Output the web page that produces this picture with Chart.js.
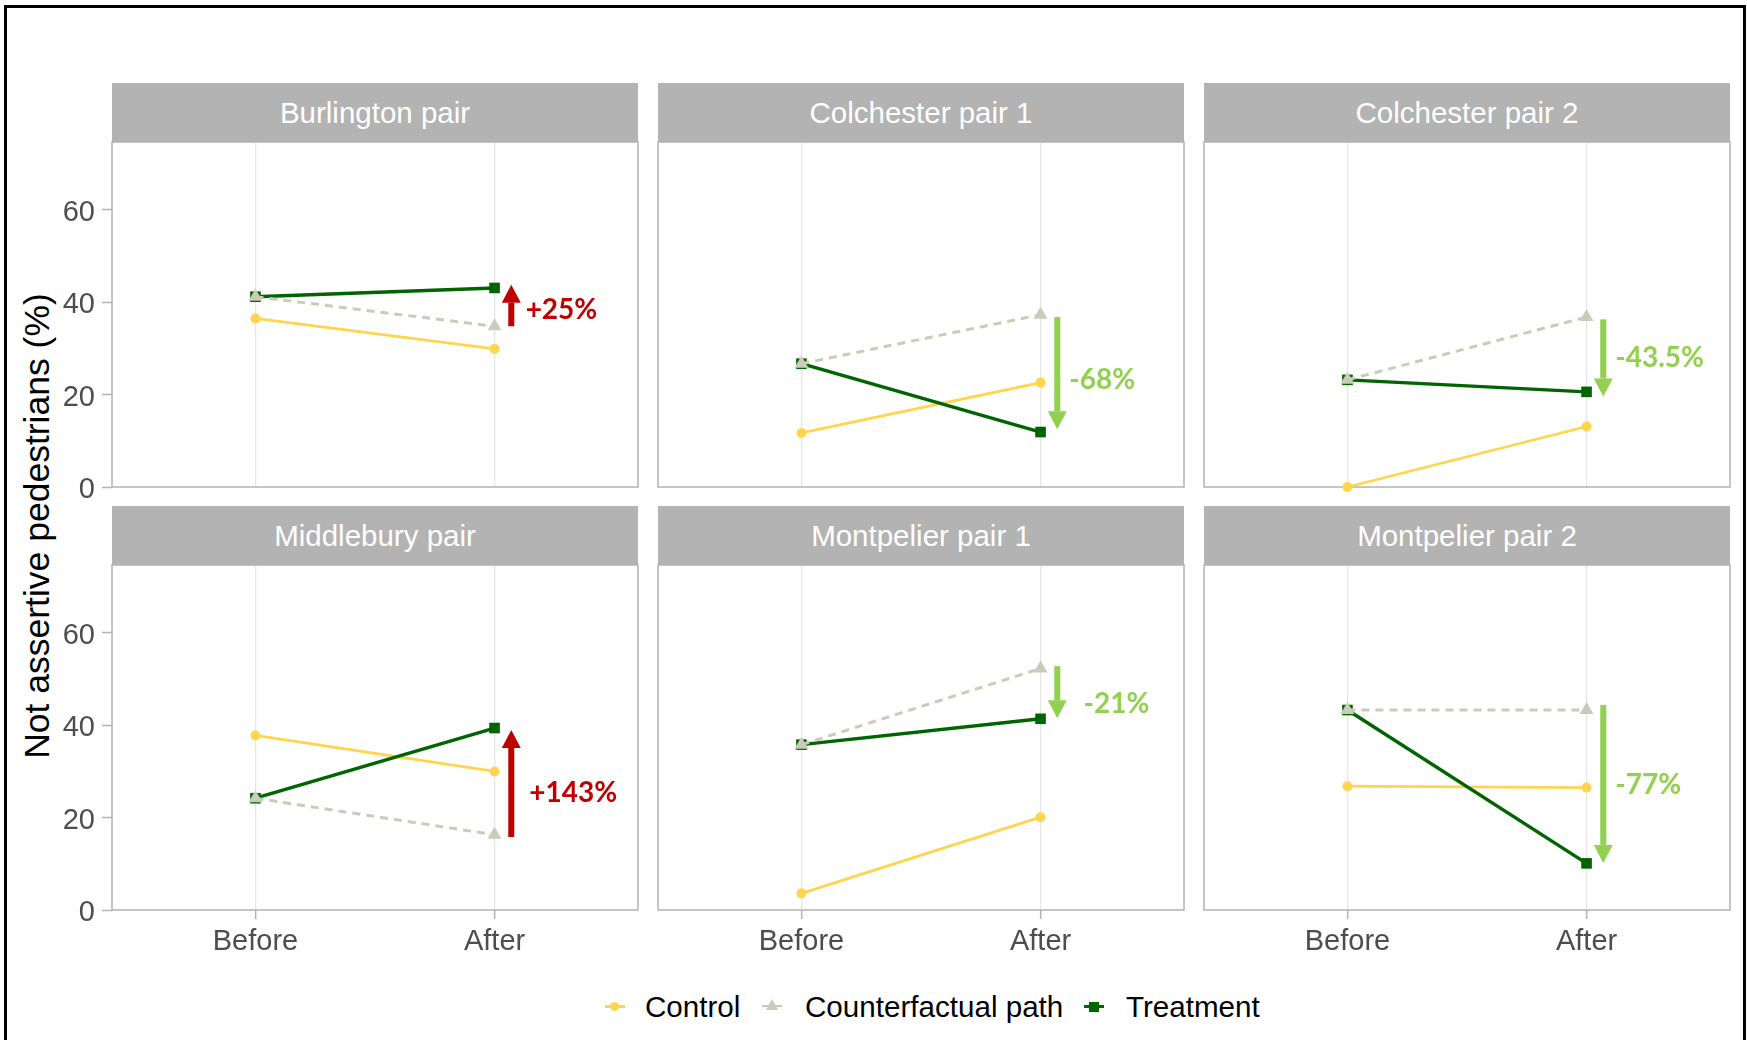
<!DOCTYPE html>
<html>
<head>
<meta charset="utf-8">
<script src="https://cdn.jsdelivr.net/npm/chart.js@4.4.1/dist/chart.umd.min.js"></script>
<style>
  body { margin: 0; background: #fff; font-family: "Liberation Sans", Arial, sans-serif; }
  #page { position: relative; width: 1747px; height: 1040px; overflow: hidden; background: #fff; }
  #frame { position: absolute; left: 4px; top: 5px; width: 1742px; height: 1100px; border: 3px solid #000; border-bottom: none; box-sizing: border-box; }
  .strip { position: absolute; background: #B3B3B3; color: #fff; font-size: 29.5px; display: flex; align-items: center; justify-content: center; }
  canvas { position: absolute; }
  #ytitle { position: absolute; left: -263px; top: 506px; width: 600px; height: 40px; line-height: 40px; text-align: center; font-size: 35.5px; color: #000; white-space: nowrap; transform: rotate(-90deg); }
  .lg-text { position: absolute; top: 989px; font-size: 29.6px; line-height: 36px; color: #000; white-space: nowrap; }
  .lg-key { position: absolute; top: 997px; width: 20px; height: 20px; }
  .lg-line { position: absolute; left: 0; top: 8px; width: 20px; height: 3px; }
  .lg-mark { position: absolute; }
</style>
</head>
<body>
<div id="page">
  <div id="frame"></div>
  <div id="ytitle">Not assertive pedestrians (%)</div>

  <div class="lg-key" style="left:605px"><div class="lg-line" style="background:#FFD54F"></div><div class="lg-mark" style="left:5px;top:5px;width:9px;height:9px;border-radius:50%;background:#FFD54F"></div></div>
  <div class="lg-text" style="left:645px">Control</div>
  <div class="lg-key" style="left:762px"><div class="lg-line" style="background:#C9CCBA;height:2px"></div><div class="lg-mark" style="left:4px;top:2px;width:0;height:0;border-left:6px solid transparent;border-right:6px solid transparent;border-bottom:11px solid #C9CCBA"></div></div>
  <div class="lg-text" style="left:805px">Counterfactual path</div>
  <div class="lg-key" style="left:1084px"><div class="lg-line" style="background:#006400"></div><div class="lg-mark" style="left:5px;top:5px;width:10px;height:10px;background:#006400"></div></div>
  <div class="lg-text" style="left:1126px">Treatment</div>
</div>

<script>
// data
const panelNames = ['Burlington pair', 'Colchester pair 1', 'Colchester pair 2',
                    'Middlebury pair', 'Montpelier pair 1', 'Montpelier pair 2'];
const periods = ['Before', 'After'];
const periodX = [1, 2];
const yTicks = [0, 20, 40, 60];

const controlVals        = [[36.5, 29.9], [11.7, 22.6], [0.0, 13.1], [37.8, 30.0], [3.6, 20.1], [26.8, 26.5]];
const counterfactualVals = [[41.2, 34.8], [26.7, 37.3], [23.2, 36.8], [24.2, 16.3], [35.8, 52.3], [43.3, 43.3]];
const treatmentVals      = [[41.2, 43.1], [26.7, 11.9], [23.2, 20.6], [24.2, 39.4], [35.8, 41.4], [43.3, 10.1]];

// effect arrows (value units) and their labels
const effectLabels = ['+25%', '-68%', '-43.5%', '+143%', '-21%', '-77%'];
const arrowFrom    = [34.8, 36.8, 36.3, 15.8, 52.8, 44.4];
const arrowTo      = [43.8, 12.5, 19.6, 39.0, 41.5, 10.2];
const labelY       = [38.7, 23.6, 28.4, 25.8, 45.1, 27.5];
const labelX       = [2.13, 2.12, 2.12, 2.145, 2.18, 2.12];
const arrowX = 2.07;

// layout
const colLeft = [112, 658, 1204];
const rowTop = [142, 565];
const PANEL_W = 526, PANEL_H = 345, STRIP_H = 59, PAD = 30;

Chart.defaults.font.family = '"Liberation Sans", Arial, sans-serif';
Chart.defaults.animation = false;

const panelDeco = {
  id: 'panelDeco',
  beforeDatasetsDraw(chart) {
    const { ctx, chartArea: a } = chart;
    ctx.save();
    ctx.strokeStyle = '#B3B3B3';
    ctx.lineWidth = 1.5;
    ctx.strokeRect(a.left, a.top, a.right - a.left, a.bottom - a.top);
    ctx.restore();
  },
  afterDatasetsDraw(chart, args, opts) {
    const { ctx, scales: { x, y } } = chart;
    const i = opts.index;
    const up = arrowTo[i] > arrowFrom[i];
    const col = up ? '#C00000' : '#92D050';
    const px = x.getPixelForValue(arrowX);
    const y0 = y.getPixelForValue(arrowFrom[i]);
    const y1 = y.getPixelForValue(arrowTo[i]);
    const dir = up ? -1 : 1;
    const headL = 18, headW = 9.5;
    const base = y1 - dir * headL;
    ctx.save();
    ctx.fillStyle = col;
    ctx.fillRect(px - 3, Math.min(y0, base), 6, Math.abs(base - y0));
    ctx.beginPath();
    ctx.moveTo(px, y1);
    ctx.lineTo(px - headW, base);
    ctx.lineTo(px + headW, base);
    ctx.closePath();
    ctx.fill();
    ctx.font = 'bold 28px Lato';
    ctx.textAlign = 'left';
    ctx.textBaseline = 'middle';
    ctx.fillText(effectLabels[i], x.getPixelForValue(labelX[i]), y.getPixelForValue(labelY[i]) + 2);
    ctx.restore();
  }
};

const page = document.getElementById('page');

function toPoints(vals) {
  return vals.map((v, k) => ({ x: periodX[k], y: v }));
}

panelNames.forEach((name, i) => {
  const col = i % 3, row = Math.floor(i / 3);
  const left = colLeft[col], top = rowTop[row];
  const isLeft = col === 0, isBottom = row === 1;

  const strip = document.createElement('div');
  strip.className = 'strip';
  strip.textContent = name;
  strip.style.left = left + 'px';
  strip.style.top = (top - STRIP_H) + 'px';
  strip.style.width = PANEL_W + 'px';
  strip.style.height = STRIP_H + 'px';
  page.appendChild(strip);

  const cLeft = isLeft ? 0 : left - 10;
  const cW = (left - cLeft) + PANEL_W + 10;
  const cTop = top - PAD;
  const xH = isBottom ? 70 : 0;
  const yW = isLeft ? left : 0;
  const cH = PAD + PANEL_H + (isBottom ? xH : PAD);

  const canvas = document.createElement('canvas');
  canvas.width = cW; canvas.height = cH;
  canvas.style.left = cLeft + 'px';
  canvas.style.top = cTop + 'px';
  canvas.style.width = cW + 'px';
  canvas.style.height = cH + 'px';
  page.appendChild(canvas);

  new Chart(canvas.getContext('2d'), {
    type: 'line',
    data: {
      datasets: [
        {
          label: 'Counterfactual path',
          data: toPoints(counterfactualVals[i]),
          borderColor: '#C9CCBA',
          backgroundColor: '#C9CCBA',
          borderWidth: 3,
          borderDash: [8, 6],
          pointStyle: 'triangle',
          pointRadius: 8,
          pointBorderWidth: 0,
          order: 0,
          clip: false
        },
        {
          label: 'Treatment',
          data: toPoints(treatmentVals[i]),
          borderColor: '#006400',
          backgroundColor: '#006400',
          borderWidth: 3.4,
          pointStyle: 'rect',
          pointRadius: 7.5,
          pointBorderWidth: 0,
          order: 1,
          clip: false
        },
        {
          label: 'Control',
          data: toPoints(controlVals[i]),
          borderColor: '#FFD54F',
          backgroundColor: '#FFD54F',
          borderWidth: 2.8,
          pointStyle: 'circle',
          pointRadius: 5,
          pointBorderWidth: 0,
          order: 2,
          clip: false
        }
      ]
    },
    options: {
      responsive: false,
      animation: false,
      layout: { padding: { left: isLeft ? 0 : 10, right: 10, top: PAD, bottom: isBottom ? 0 : PAD } },
      plugins: {
        legend: { display: false },
        tooltip: { enabled: false },
        panelDeco: { index: i }
      },
      scales: {
        x: {
          type: 'linear',
          min: 0.4,
          max: 2.6,
          afterBuildTicks: s => { s.ticks = periodX.map(v => ({ value: v })); },
          afterFit: s => { s.height = xH; },
          ticks: {
            display: isBottom,
            callback: v => periods[periodX.indexOf(v)],
            color: '#4D4D4D',
            font: { size: 29 },
            padding: 6,
            maxRotation: 0
          },
          grid: {
            color: '#E6E6E6',
            lineWidth: 1.3,
            drawTicks: isBottom,
            tickLength: 9,
            tickColor: '#B3B3B3',
            tickWidth: 1.5
          },
          border: { display: false }
        },
        y: {
          display: isLeft,
          min: 0,
          max: 74.7,
          afterBuildTicks: s => { s.ticks = yTicks.map(v => ({ value: v })); },
          afterFit: s => { s.width = yW; },
          ticks: {
            color: '#4D4D4D',
            font: { size: 29 },
            padding: 7,
            labelOffset: 3
          },
          grid: {
            drawOnChartArea: false,
            drawTicks: true,
            tickLength: 10,
            tickColor: '#B3B3B3',
            tickWidth: 1.5
          },
          border: { display: false }
        }
      }
    },
    plugins: [panelDeco]
  });
});
</script>
</body>
</html>
